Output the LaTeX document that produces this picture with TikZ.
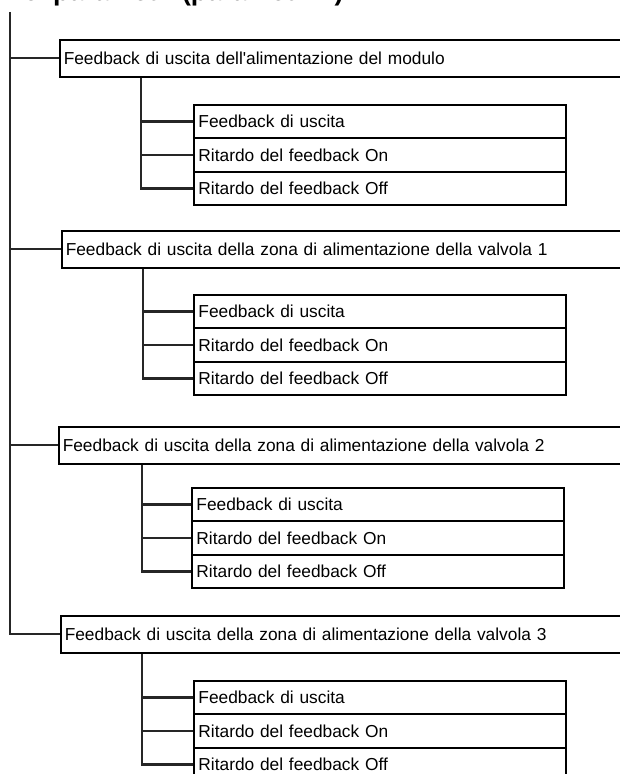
\documentclass[tikz,border=0pt]{standalone}
\usepackage{fontspec}
\setmainfont{Liberation Sans}[Ligatures=TeXOff]
\begin{document}
\begin{tikzpicture}[x=0.75pt,y=-0.75pt,
  conn/.style={draw=black!85,line width=1.6pt},
  grpbox/.style={draw=black,line width=1.15pt,fill=white,anchor=north west,
    minimum height=27.75pt,text width=490pt,inner xsep=3pt,inner ysep=0pt,
    align=left,font=\fontsize{13}{15}\selectfont},
  itembox/.style={draw=black,line width=1.15pt,fill=white,anchor=north west,
    minimum height=25.1pt,text width=272.25pt,inner xsep=3.5pt,inner ysep=0pt,
    align=left,font=\fontsize{13}{15}\selectfont},
  headline/.style={anchor=base west,inner sep=0pt,font=\bfseries\fontsize{20}{24}\selectfont}]
\useasboundingbox (0,0) rectangle (620,774);
\clip (0,0) rectangle (620,774);

% heading, cut by the top edge
\node[headline] (head) at (4,0.5) {Dei parametri (parametri 1)};

% first-level groups
\node[grpbox] (g1) at (59,39)  {Feedback di uscita dell'alimentazione del modulo};
\node[grpbox] (g2) at (61,230) {Feedback di uscita della zona di alimentazione della valvola 1};
\node[grpbox] (g3) at (58,426) {Feedback di uscita della zona di alimentazione della valvola 2};
\node[grpbox] (g4) at (60,615) {Feedback di uscita della zona di alimentazione della valvola 3};

% items of group 1
\node[itembox] (g1a) at (193,104)   {Feedback di uscita};
\node[itembox] (g1b) at (193,137.5) {Ritardo del feedback On};
\node[itembox] (g1c) at (193,171)   {Ritardo del feedback Off};
% items of group 2
\node[itembox] (g2a) at (193,294)   {Feedback di uscita};
\node[itembox] (g2b) at (193,327.5) {Ritardo del feedback On};
\node[itembox] (g2c) at (193,361)   {Ritardo del feedback Off};
% items of group 3
\node[itembox] (g3a) at (191,487)   {Feedback di uscita};
\node[itembox] (g3b) at (191,520.5) {Ritardo del feedback On};
\node[itembox] (g3c) at (191,554)   {Ritardo del feedback Off};
% items of group 4
\node[itembox] (g4a) at (193,680)   {Feedback di uscita};
\node[itembox] (g4b) at (193,713.5) {Ritardo del feedback On};
\node[itembox] (g4c) at (193,747)   {Ritardo del feedback Off};

% trunk of the tree
\coordinate (root) at (10,12);
\draw[conn] (root) |- (g4.west);
\draw[conn] (g1.west -| root) -- (g1.west);
\draw[conn] (g2.west -| root) -- (g2.west);
\draw[conn] (g3.west -| root) -- (g3.west);

% branches of each group
\coordinate (v1) at ([xshift=61.5pt]g1.south west);
\coordinate (v2) at ([xshift=61.5pt]g2.south west);
\coordinate (v3) at ([xshift=63pt]g3.south west);
\coordinate (v4) at ([xshift=61.5pt]g4.south west);
\foreach \g in {1,2,3,4}{
  \draw[conn] (v\g) |- (g\g c.west);
  \draw[conn] (v\g |- g\g a.west) -- (g\g a.west);
  \draw[conn] (v\g |- g\g b.west) -- (g\g b.west);
}
\end{tikzpicture}
\end{document}
